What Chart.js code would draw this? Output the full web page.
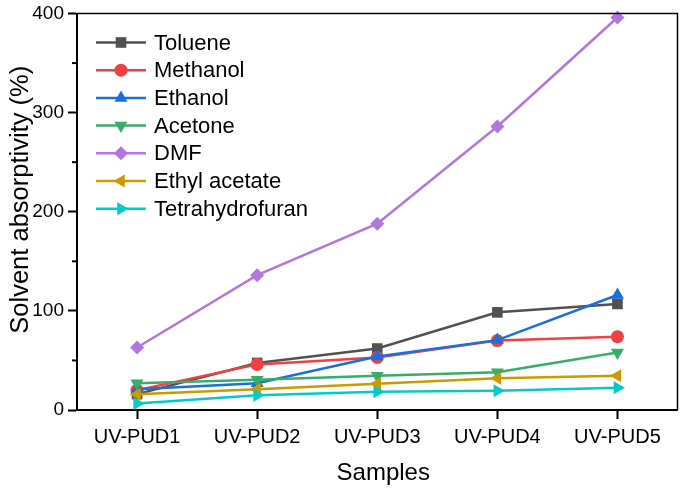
<!DOCTYPE html>
<html>
<head>
<meta charset="utf-8">
<script src="https://cdn.jsdelivr.net/npm/chart.js@4.4.1/dist/chart.umd.min.js"></script>
<style>
    html, body { margin: 0; padding: 0; background: #fff; }
    #wrap { width: 685px; height: 489px; position: relative; }
</style>
</head>
<body>
<div id="wrap"><canvas id="solventChart"></canvas></div>
<script>
// Data
const samples = ['UV-PUD1', 'UV-PUD2', 'UV-PUD3', 'UV-PUD4', 'UV-PUD5'];
const toluene = [16, 47.5, 62, 98.5, 107];
const methanol = [20, 46, 53, 70, 74];
const ethanol = [21, 27, 54, 70.5, 116];
const acetone = [27, 30.5, 34.5, 38, 58];
const dmf = [63, 136, 188, 286, 396];
const ethylAcetate = [16, 21, 26.5, 32, 34.5];
const thf = [6.5, 15, 18.5, 19.5, 22.5];
const yTicks = [0, 100, 200, 300, 400];
const yMinorTicks = [50, 150, 250, 350];
const xTitle = 'Samples';
const yTitle = 'Solvent absorptivity (%)';

const FONT = "'Liberation Sans', Arial, sans-serif";
Chart.defaults.font.family = FONT;
Chart.defaults.color = '#000';

function series(label, data, color, style, rotation, radius, idx) {
    return {
        label: label,
        data: data,
        borderColor: color,
        backgroundColor: color,
        pointBackgroundColor: color,
        pointBorderColor: color,
        pointBorderWidth: 0,
        borderWidth: 2.5,
        pointStyle: style,
        pointRotation: rotation,
        pointRadius: radius,
        tension: 0,
        clip: false,
        order: 10 - idx
    };
}

// frame on top/right, minor ticks on y axis, axis titles
const framePlugin = {
    id: 'frame',
    afterDraw(chart) {
        const ctx = chart.ctx;
        const a = chart.chartArea;
        const y = chart.scales.y;
        ctx.save();
        ctx.strokeStyle = '#000';
        ctx.lineWidth = 1.5;
        ctx.beginPath();
        ctx.moveTo(a.left, a.top);
        ctx.lineTo(a.right, a.top);
        ctx.lineTo(a.right, a.bottom);
        ctx.stroke();
        ctx.lineWidth = 2;
        yMinorTicks.forEach(v => {
            const py = y.getPixelForValue(v);
            ctx.beginPath();
            ctx.moveTo(a.left - 5, py);
            ctx.lineTo(a.left, py);
            ctx.stroke();
        });

        // axis titles (the original sits slightly off-centre)
        ctx.fillStyle = '#000';
        ctx.textAlign = 'center';
        ctx.textBaseline = 'middle';
        ctx.font = '24px ' + FONT;
        ctx.fillText(xTitle, (a.left + a.right) / 2 + 6, a.bottom + 63);
        ctx.save();
        ctx.translate(21, (a.top + a.bottom) / 2 - 12);
        ctx.rotate(-Math.PI / 2);
        ctx.font = '25.5px ' + FONT;
        ctx.fillText(yTitle, 0, 0);
        ctx.restore();
        ctx.restore();
    }
};

// legend drawn inside the plot area, one entry per row
const insideLegend = {
    id: 'insideLegend',
    afterDraw(chart) {
        const ctx = chart.ctx;
        const a = chart.chartArea;
        const x0 = a.left + 19;
        const lineLen = 50;
        let yy = a.top + 29;
        ctx.save();
        ctx.font = '22px ' + FONT;
        ctx.textBaseline = 'middle';
        chart.data.datasets.forEach(ds => {
            ctx.strokeStyle = ds.borderColor;
            ctx.lineWidth = 2.5;
            ctx.beginPath();
            ctx.moveTo(x0, yy);
            ctx.lineTo(x0 + lineLen, yy);
            ctx.stroke();
            ctx.fillStyle = ds.pointBackgroundColor;
            Chart.helpers.drawPoint(ctx, {
                pointStyle: ds.pointStyle,
                rotation: ds.pointRotation,
                radius: ds.pointRadius,
                borderWidth: 0
            }, x0 + lineLen / 2, yy);
            ctx.fillStyle = '#000';
            ctx.fillText(ds.label, x0 + lineLen + 8, yy + 1);
            yy += 27.7;
        });
        ctx.restore();
    }
};

new Chart(document.getElementById('solventChart'), {
    type: 'line',
    data: {
        labels: samples,
        datasets: [
            series('Toluene', toluene, '#515151', 'rect', 0, 7.5, 0),
            series('Methanol', methanol, '#F14040', 'circle', 0, 6.5, 1),
            series('Ethanol', ethanol, '#1A6FDF', 'triangle', 0, 7.5, 2),
            series('Acetone', acetone, '#37AD6B', 'triangle', 180, 7.5, 3),
            series('DMF', dmf, '#B177DE', 'rectRot', 0, 7, 4),
            series('Ethyl acetate', ethylAcetate, '#CC9900', 'triangle', -90, 7.5, 5),
            series('Tetrahydrofuran', thf, '#00CBCC', 'triangle', 90, 7.5, 6)
        ]
    },
    options: {
        responsive: true,
        maintainAspectRatio: false,
        animation: false,
        layout: { padding: { left: 0, right: 4, top: 13, bottom: 0 } },
        plugins: {
            legend: { display: false },
            tooltip: { enabled: false }
        },
        scales: {
            x: {
                type: 'category',
                offset: true,
                grid: {
                    offset: false,
                    drawOnChartArea: false,
                    drawTicks: true,
                    tickLength: 9,
                    tickWidth: 2,
                    tickColor: '#000'
                },
                border: { display: true, color: '#000', width: 2 },
                ticks: { font: { size: 20 }, padding: 6, maxRotation: 0 },
                title: { display: false },
                afterFit(scale) { scale.height = 79; }
            },
            y: {
                min: 0,
                max: 400,
                afterBuildTicks(scale) {
                    scale.ticks = yTicks.map(v => ({ value: v }));
                },
                grid: {
                    drawOnChartArea: false,
                    drawTicks: true,
                    tickLength: 9,
                    tickWidth: 2,
                    tickColor: '#000'
                },
                border: { display: true, color: '#000', width: 2 },
                ticks: { font: { size: 19, lineHeight: 1 }, padding: 4 },
                title: { display: false },
                afterFit(scale) { scale.width = 77; }
            }
        }
    },
    plugins: [framePlugin, insideLegend]
});
</script>
</body>
</html>
